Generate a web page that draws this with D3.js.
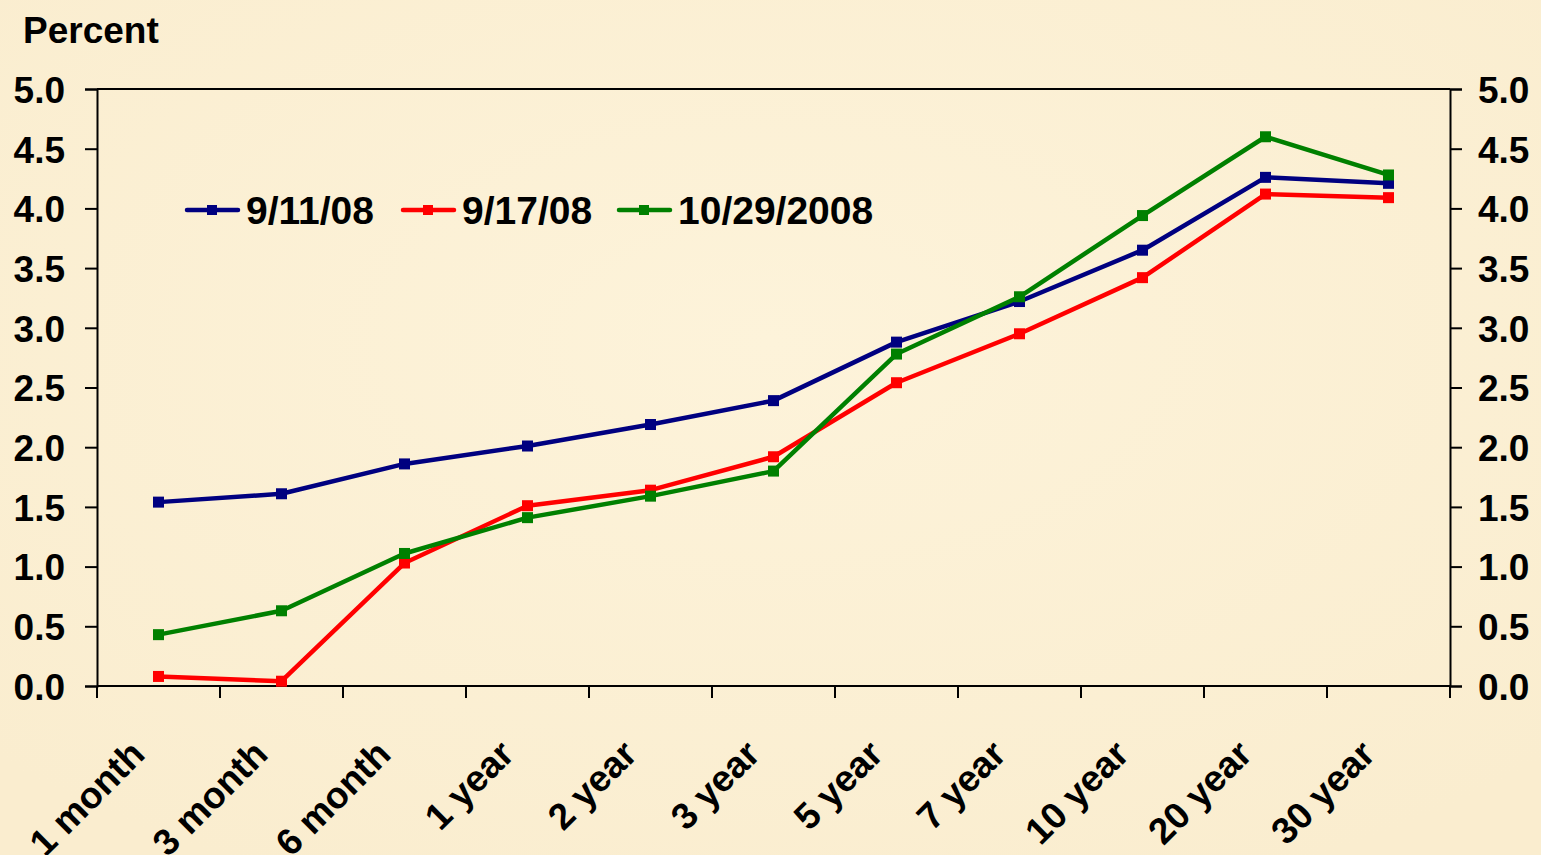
<!DOCTYPE html>
<html><head><meta charset="utf-8">
<script src="https://cdn.jsdelivr.net/npm/d3@7"></script>
<style>
html,body{margin:0;padding:0;}
body{width:1541px;height:855px;overflow:hidden;background:#FCF0D8;}
text{font-family:"Liberation Sans",Arial,sans-serif;font-weight:bold;fill:#000;}
</style></head>
<body>
<svg id="chart" width="1541" height="855"></svg>
<script>
const categories = ["1 month","3 month","6 month","1 year","2 year","3 year","5 year","7 year","10 year","20 year","30 year"];
const seriesNames = ["9/11/08","9/17/08","10/29/2008"];
const seriesColors = ["#000080","#FF0000","#008000"];
const sep11 = [1.54,1.61,1.86,2.01,2.19,2.39,2.88,3.22,3.65,4.26,4.21];
const sep17 = [0.08,0.04,1.03,1.51,1.64,1.92,2.54,2.95,3.42,4.12,4.09];
const oct29 = [0.43,0.63,1.11,1.41,1.59,1.80,2.78,3.26,3.94,4.60,4.28];
const yTicks = [0,0.5,1,1.5,2,2.5,3,3.5,4,4.5,5];
const seriesValues = [sep11, sep17, oct29];

const svg = d3.select("#chart");
const W = 1541, H = 855;
const m = {left:97, right:1450, top:89, bottom:686};

// parchment-like background
const defs = svg.append("defs");
const g1 = defs.append("radialGradient").attr("id","bg1").attr("cx","50%").attr("cy","40%").attr("r","70%");
g1.append("stop").attr("offset","0%").attr("stop-color","#FDF3DA");
g1.append("stop").attr("offset","100%").attr("stop-color","#FAEDCF");
svg.append("rect").attr("width",W).attr("height",H).attr("fill","url(#bg1)");

const x = d3.scaleBand().domain(categories).range([m.left, m.right]).padding(0);
const y = d3.scaleLinear().domain([0,5]).range([m.bottom, m.top]);

// frame top
svg.append("line").attr("x1",m.left).attr("x2",m.right).attr("y1",m.top).attr("y2",m.top)
  .attr("stroke","#000").attr("stroke-width",2);

// left axis
const yl = svg.append("g").attr("transform",`translate(${m.left},0)`)
  .call(d3.axisLeft(y).tickValues(yTicks).tickFormat(d3.format(".1f")).tickSize(12).tickPadding(20));
// right axis
const yr = svg.append("g").attr("transform",`translate(${m.right},0)`)
  .call(d3.axisRight(y).tickValues(yTicks).tickFormat(d3.format(".1f")).tickSize(12).tickPadding(16));
[yl,yr].forEach(g=>{
  g.select(".domain").attr("stroke","#000").attr("stroke-width",2);
  g.selectAll(".tick line").attr("stroke","#000").attr("stroke-width",2);
  g.selectAll(".tick text").style("font-size","37px").attr("dy","0.36em");
});

// x axis with ticks at band boundaries
const xa = svg.append("g").attr("transform",`translate(0,${m.bottom})`);
xa.append("line").attr("x1",m.left).attr("x2",m.right).attr("stroke","#000").attr("stroke-width",2);
const bounds = categories.map(c=>x(c)).concat([x(categories[categories.length-1])+x.bandwidth()]);
xa.selectAll("line.tk").data(bounds).enter().append("line").attr("class","tk")
  .attr("x1",d=>d).attr("x2",d=>d).attr("y1",0).attr("y2",12).attr("stroke","#000").attr("stroke-width",2);
xa.selectAll("text.lbl").data(categories).enter().append("text").attr("class","lbl")
  .attr("text-anchor","end")
  .attr("transform",d=>`translate(${x(d)+x.bandwidth()/2-30},${52}) rotate(-45)`)
  .attr("dy","0.7em")
  .style("font-size","37px")
  .text(d=>d);

// title
svg.append("text").attr("x",23).attr("y",43).style("font-size","37px").text("Percent");

// lines
const line = d3.line().x((d,i)=>x(categories[i])+x.bandwidth()/2).y(d=>y(d));
seriesValues.forEach((vals,si)=>{
  svg.append("path").datum(vals).attr("d",line).attr("fill","none")
    .attr("stroke",seriesColors[si]).attr("stroke-width",4.5).attr("stroke-linejoin","round");
  svg.selectAll(null).data(vals).enter().append("rect")
    .attr("x",(d,i)=>x(categories[i])+x.bandwidth()/2-5.5)
    .attr("y",d=>y(d)-5.5).attr("width",11).attr("height",11)
    .attr("fill",seriesColors[si]);
});

// legend
const legX = [185,401,617];
seriesNames.forEach((n,i)=>{
  const lg = svg.append("g").attr("transform",`translate(${legX[i]},210)`);
  lg.append("line").attr("x1",2).attr("x2",53).attr("stroke",seriesColors[i]).attr("stroke-width",4.5).attr("stroke-linecap","round");
  lg.append("rect").attr("x",22).attr("y",-5).attr("width",10).attr("height",10).attr("fill",seriesColors[i]);
  lg.append("text").attr("x",61).attr("dy","0.36em").style("font-size","39px").text(n);
});
</script>
</body></html>
